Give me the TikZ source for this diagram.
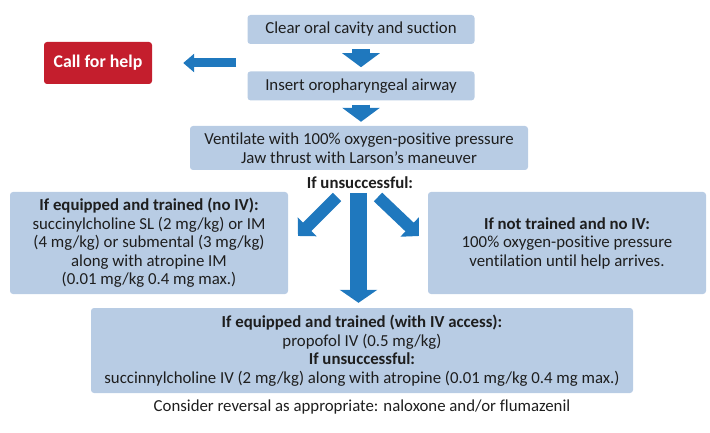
\documentclass[tikz,border=0pt]{standalone}
\usepackage{fontspec}
\setmainfont{Carlito}[Ligatures=NoCommon]
\usetikzlibrary{arrows.meta}
\usetikzlibrary{positioning}
\definecolor{boxblue}{RGB}{184,204,228}
\definecolor{arrowblue}{RGB}{31,120,190}
\definecolor{helpred}{RGB}{196,30,45}
\definecolor{txt}{RGB}{30,30,30}
\begin{document}
\begin{tikzpicture}
[x=1pt,y=-1pt,%
  every node/.style={font=\fontsize{16.8}{18.5}\selectfont,text=txt,align=center,inner sep=0pt},%
  stepbox/.style={fill=boxblue,rounded corners=3pt},%
  helpbox/.style={fill=helpred,rounded corners=3pt,text=white,font=\fontsize{17.8}{19}\selectfont\bfseries},%
  downarrow/.style={arrowblue,line width=18pt,-{Triangle[length=14pt 0,width=37pt 0]}},%
  bigarrow/.style={arrowblue,line width=17pt,-{Triangle[length=13pt 0,width=37pt 0]}},%
  diagarrow/.style={arrowblue,line width=12pt,-{Triangle[length=13pt 0,width=26pt 0]}},%
  sidearrow/.style={arrowblue,line width=9pt,-{Triangle[length=11pt 0,width=18pt 0]}}]
\useasboundingbox (0,0) rectangle (710,433);
\node[stepbox,minimum width=227pt,minimum height=29pt] (clear) at (361,29.5) {Clear oral cavity and suction};
\node[stepbox,minimum width=227pt,minimum height=29pt,below=27pt of clear] (insert) {Insert oropharyngeal airway};
\node[stepbox,minimum width=338pt,minimum height=44pt] (vent) at (359,148)
  {Ventilate with 100\% oxygen-positive pressure\\Jaw thrust with Larson's maneuver};
\node[helpbox,minimum width=108pt,minimum height=42pt] (help) at (98,63) {Call for help};
\node[font=\fontsize{16.8}{18.5}\selectfont\bfseries] (unsucc) at (360,183) {If unsuccessful:};
\node[stepbox,minimum width=278pt,minimum height=102pt] (noiv) at (149,243)
  {\textbf{If equipped and trained (no IV):}\\succinylcholine SL (2 mg/kg) or IM\\(4 mg/kg) or submental (3 mg/kg)\\along with atropine IM\\(0.01 mg/kg 0.4 mg max.)};
\node[stepbox,minimum width=278pt,minimum height=102pt] (notrained) at (567,243)
  {\textbf{If not trained and no IV:}\\100\% oxygen-positive pressure\\ventilation until help arrives.};
\node[stepbox,minimum width=542pt,minimum height=85pt] (withiv) at (362,350.5)
  {\textbf{If equipped and trained (with IV access):}\\propofol IV (0.5 mg/kg)\\\textbf{If unsuccessful:}\\succinnylcholine IV (2 mg/kg) along with atropine (0.01 mg/kg 0.4 mg max.)};
\node (reversal) at (362,407) {Consider reversal as appropriate: naloxone and/or flumazenil};
\coordinate (sidetail) at (236,63);
\coordinate (ctop) at (358.5,193);
\coordinate (ltail) at (337,197);
\coordinate (ltip) at (298,236);
\coordinate (rtail) at (378,197);
\coordinate (rtip) at (419,236);
\draw[downarrow,shorten <=5pt,shorten >=4pt] (clear.south) -- (insert.north);
\draw[downarrow,shorten <=4pt,shorten >=4pt] (insert.south) -- (insert.south |- vent.north);
\draw[sidearrow,shorten >=31pt] (sidetail) -- (help.east);
\draw[bigarrow,shorten >=5pt] (ctop) -- (ctop |- withiv.north);
\draw[diagarrow] (ltail) -- (ltip);
\draw[diagarrow] (rtail) -- (rtip);
\end{tikzpicture}
\end{document}
